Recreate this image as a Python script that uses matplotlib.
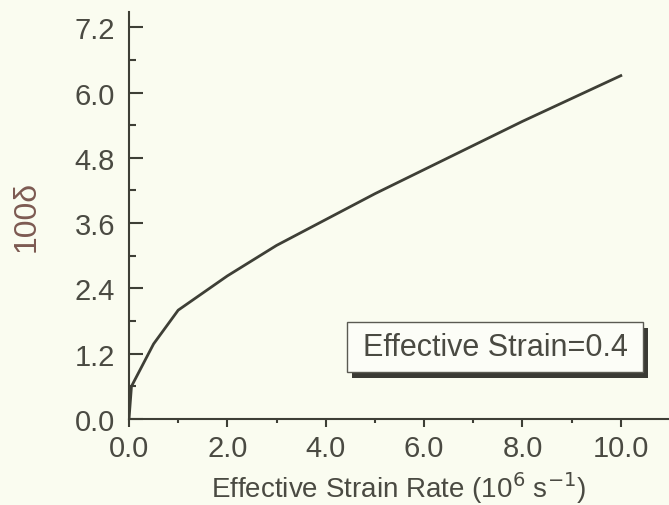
import matplotlib
matplotlib.use("Agg")
import matplotlib.pyplot as plt
from matplotlib.patches import Rectangle
from matplotlib.ticker import MultipleLocator, FormatStrFormatter

# Data
strain_rate = [0.0, 0.05, 0.5, 1.0, 2.0, 3.0, 5.0, 8.0, 10.0]
delta100 = [0.0, 0.6, 1.38, 2.0, 2.63, 3.19, 4.14, 5.47, 6.31]
x_ticks = [0.0, 2.0, 4.0, 6.0, 8.0, 10.0]
y_ticks = [0.0, 1.2, 2.4, 3.6, 4.8, 6.0, 7.2]
label_text = "Effective Strain=0.4"

bg = "#fafcf0"
ink = "#4a4a42"
line_c = "#3e3f36"

plt.rcParams['font.family'] = ['Liberation Sans', 'DejaVu Sans']

fig = plt.figure(figsize=(6.69, 5.06), dpi=100, facecolor=bg)
ax = fig.add_axes([129/669, 1-420/506, 540/669, 407/506])
ax.set_facecolor(bg)

ax.plot(strain_rate, delta100, color=line_c, lw=2.0, solid_joinstyle='round')

ax.set_xlim(0, 10.98)
ax.set_ylim(0, 7.48)
ax.set_xticks(x_ticks)
ax.set_yticks(y_ticks)
ax.xaxis.set_minor_locator(MultipleLocator(1.0))
ax.yaxis.set_minor_locator(MultipleLocator(0.6))
ax.xaxis.set_major_formatter(FormatStrFormatter('%.1f'))
ax.yaxis.set_major_formatter(FormatStrFormatter('%.1f'))

for s in ['top', 'right']:
    ax.spines[s].set_visible(False)
for s in ['left', 'bottom']:
    ax.spines[s].set_color(line_c)
    ax.spines[s].set_linewidth(1.5)

ax.tick_params(axis='y', which='major', direction='in', length=10, width=1.5,
               color=line_c, labelsize=21, labelcolor=ink, pad=10)
ax.tick_params(axis='y', which='minor', direction='in', length=5, width=1.5, color=line_c)
ax.tick_params(axis='x', which='major', direction='out', length=6, width=1.5,
               color=line_c, labelsize=21, labelcolor=ink, pad=5)
ax.tick_params(axis='x', which='minor', direction='out', length=3, width=1.5, color=line_c)

ax.set_xlabel(r"Effective Strain Rate (10$^{6}$ s$^{-1}$)", fontsize=20, color=ink, labelpad=5)
ax.set_ylabel("100δ", fontsize=23, color="#7d5a52", labelpad=24)

# label box with shadow
x0, y0, w, h = 218/540, 47/407, 296/540, 50/407
ax.add_patch(Rectangle((x0 + 5/540, y0 - 6/407), w, h, transform=ax.transAxes,
                       facecolor="#3a3a34", edgecolor="none", zorder=4, clip_on=False))
ax.add_patch(Rectangle((x0, y0), w, h, transform=ax.transAxes,
                       facecolor="#fcfdf7", edgecolor="#5a5a52", lw=1.0, zorder=5, clip_on=False))
ax.text(x0 + w/2, y0 + h/2, label_text, transform=ax.transAxes, ha='center', va='center',
        fontsize=22, color=ink, zorder=6)

fig.savefig("out.png", dpi=100, facecolor=bg)
